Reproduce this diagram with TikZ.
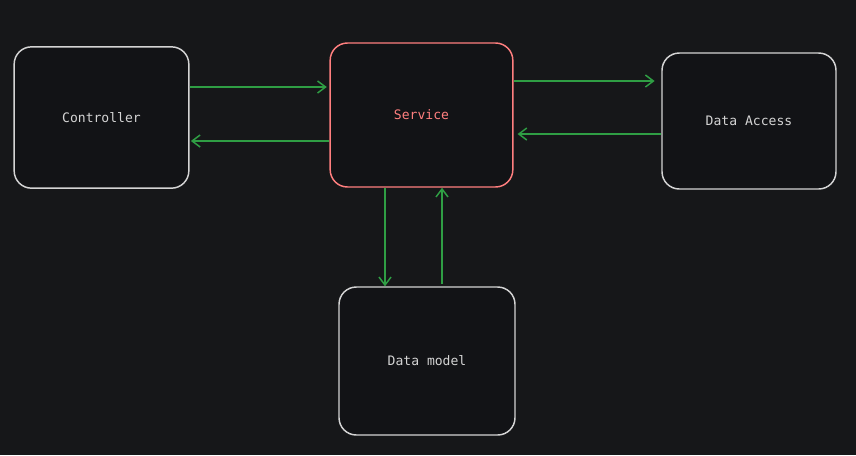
\documentclass[tikz,border=0pt]{standalone}
\usepackage{fontspec}
\setmonofont{DejaVu Sans Mono}
\usetikzlibrary{arrows.meta}
\definecolor{canvasBg}{HTML}{161719}
\definecolor{boxFill}{HTML}{121316}
\definecolor{boxLine}{HTML}{D4D4D4}
\definecolor{svcRed}{HTML}{FF7F7F}
\definecolor{flowGreen}{HTML}{2F9E44}
\tikzset{
  block/.style={draw=boxLine, fill=boxFill, line width=1.1pt, rounded corners=13pt,
    inner sep=0pt, text=boxLine, font=\ttfamily\fontsize{9.8}{11}\selectfont},
  hot/.style={block, draw=svcRed, text=svcRed},
  flow/.style={-{Straight Barb[length=6pt,width=9pt,line width=1.1pt]}, line width=1.8pt, flowGreen},
}
\begin{document}
\begin{tikzpicture}[x=0.75pt, y=-0.75pt]
  \fill[canvasBg] (0,0) rectangle (856,455);
  \useasboundingbox (0,0) rectangle (856,455);
  % layers
  \node[block, minimum width=131pt, minimum height=106pt] (ctrl) at (101.5,117.5) {Controller};
  \node[hot, minimum width=137pt, minimum height=108pt] (svc) at (421.5,115) {Service};
  \node[block, minimum width=130.5pt, minimum height=102pt] (dao) at (749,121) {Data Access};
  \node[block, minimum width=132pt, minimum height=111pt] (model) at (427,361) {Data model};
  % calls and returns
  \draw[flow] (ctrl.east |- 0,87) -- ([xshift=-2pt]svc.west |- 0,87);
  \draw[flow] (svc.west |- 0,141) -- ([xshift=1pt]ctrl.east |- 0,141);
  \draw[flow] (svc.east |- 0,81) -- ([xshift=-5pt]dao.west |- 0,81);
  \draw[flow] (dao.west |- 0,134) -- ([xshift=3pt]svc.east |- 0,134);
  \draw[flow] (385,0 |- svc.south) -- (385,0 |- model.north);
  \draw[flow] ([yshift=2pt]442,0 |- model.north) -- (442,0 |- svc.south);
\end{tikzpicture}
\end{document}
